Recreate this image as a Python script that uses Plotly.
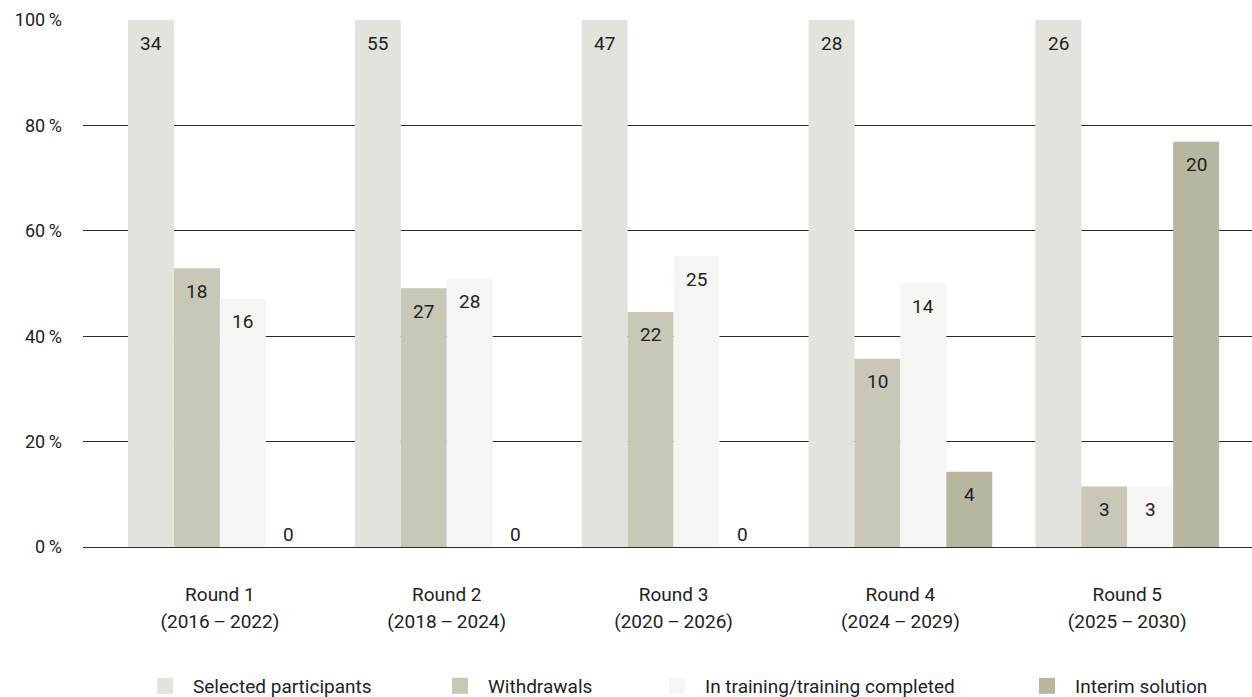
import plotly.graph_objects as go

# ---- data ----
rounds = ["Round 1", "Round 2", "Round 3", "Round 4", "Round 5"]
periods = ["(2016\u2009\u2013\u20092022)", "(2018\u2009\u2013\u20092024)", "(2020\u2009\u2013\u20092026)",
           "(2024\u2009\u2013\u20092029)", "(2025\u2009\u2013\u20092030)"]
series_names = ["Selected participants", "Withdrawals", "In training/training completed", "Interim solution"]
selected_pct = [100, 100, 100, 100, 100]
withdrawals_pct = [52.9, 49.1, 44.6, 35.7, 11.5]
training_pct = [47.1, 50.9, 55.2, 50.0, 11.5]
interim_pct = [0, 0, 0, 14.3, 76.9]
selected_n = [34, 55, 47, 28, 26]
withdrawals_n = [18, 27, 22, 10, 3]
training_n = [16, 28, 25, 14, 3]
interim_n = [0, 0, 0, 4, 20]
y_ticks = [0, 20, 40, 60, 80, 100]
y_ticklabels = ["0\u2009%", "20\u2009%", "40\u2009%", "60\u2009%", "80\u2009%", "100\u2009%"]

colors = ["#e3e3de", "#c8c7b8", "#f5f5f3", "#b7b6a1"]
FONT = "Roboto, 'Noto Sans', sans-serif"
TXT = "#222222"
FS = 19

pcts = [selected_pct, withdrawals_pct, training_pct, interim_pct]
counts = [selected_n, withdrawals_n, training_n, interim_n]
xs = list(range(len(rounds)))
XRANGE = [-0.6035, 4.55]

bargap = 0.19
bw = (1 - bargap) / 4

fig = go.Figure()
legend_ids = ["legend", "legend2", "legend3", "legend4"]
for k, (name, vals, col) in enumerate(zip(series_names, pcts, colors)):
    fig.add_trace(go.Bar(x=xs, y=vals, marker=dict(color=col, line=dict(width=0)),
                         showlegend=False, hoverinfo="skip"))
    fig.add_trace(go.Scatter(x=[None], y=[None], mode="markers", name=name,
                             marker=dict(symbol="square", size=24, color=col),
                             xaxis="x2", legend=legend_ids[k]))

annotations = []
for k in range(4):
    for i in xs:
        v = pcts[k][i]
        annotations.append(dict(
            x=i + (k - 1.5) * bw, y=v, xref="x", yref="y",
            text=str(counts[k][i]), showarrow=False,
            yshift=-23 if v > 0 else 13,
            font=dict(family=FONT, size=FS, color=TXT)))

W, H = 1252, 697
legend_text_x = [193, 488, 705, 1075]
legend_common = dict(orientation="h", xref="container", yref="container",
                     yanchor="middle", xanchor="left", bgcolor="rgba(0,0,0,0)",
                     font=dict(family=FONT, size=FS, color=TXT), itemwidth=46)
layout_legends = {}
for lid, tx in zip(legend_ids, legend_text_x):
    layout_legends[lid] = dict(legend_common, x=(tx - 56) / W, y=1 - 686 / H)

axis_common = dict(tickmode="array", tickvals=xs, range=XRANGE, showgrid=False,
                   zeroline=False, showline=False, ticks="",
                   tickfont=dict(family=FONT, size=FS, color=TXT))

fig.update_layout(
    width=W, height=H,
    margin=dict(l=83, r=0, t=20, b=150),
    paper_bgcolor="white", plot_bgcolor="white",
    barmode="group", bargap=bargap, bargroupgap=0,
    font=dict(family=FONT, size=FS, color=TXT),
    xaxis=dict(axis_common, ticktext=rounds, ticklabelstandoff=34),
    xaxis2=dict(axis_common, ticktext=periods, ticklabelstandoff=61,
                overlaying="x", matches="x", anchor="y", side="bottom"),
    yaxis=dict(range=[0, 100], tickmode="array", tickvals=y_ticks, ticktext=y_ticklabels,
               showgrid=True, gridcolor="#2b2b2b", gridwidth=1,
               zeroline=True, zerolinecolor="#2b2b2b", zerolinewidth=1,
               showline=False, ticks="", ticklabelstandoff=20,
               tickfont=dict(family=FONT, size=18, color=TXT)),
    annotations=annotations,
    **layout_legends,
)

fig.write_html("out.html")
